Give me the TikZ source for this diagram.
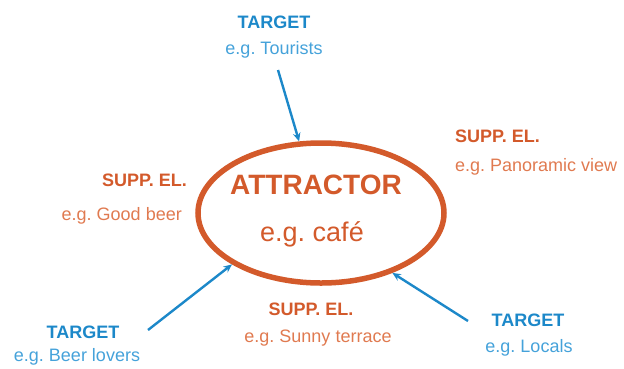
\documentclass[tikz,border=0pt]{standalone}
\usepackage{fontspec}
\setmainfont{Liberation Sans}
\usetikzlibrary{shapes.geometric,arrows.meta}
\definecolor{tblue}{HTML}{1C88C9}
\definecolor{lblue}{HTML}{45A2DA}
\definecolor{torange}{HTML}{D35A2B}
\definecolor{lorange}{HTML}{E07A50}
\frenchspacing
\tikzset{
  head/.style={font=\bfseries\fontsize{18}{21}\selectfont, inner sep=0pt},
  sub/.style={font=\fontsize{18}{21}\selectfont, inner sep=0pt},
  tgthead/.style={head, text=tblue},
  tgtsub/.style={sub, text=lblue},
  supphead/.style={head, text=torange},
  suppsub/.style={sub, text=lorange},
  link/.style={draw=tblue, line width=2.4pt, -{Stealth[length=8.5pt,width=7.5pt]}},
}
\begin{document}
\begin{tikzpicture}[x=1pt,y=-1pt]
\useasboundingbox (0,0) rectangle (624,368);
% attractor
\node[ellipse, draw=torange, line width=5.5pt, minimum width=246pt, minimum height=140pt, inner sep=0pt] (ell) at (321,213) {};
\node[font=\bfseries\fontsize{28}{30}\selectfont, text=torange, inner sep=0pt] (attr) at (316,185) {ATTRACTOR};
\node[font=\fontsize{27}{30}\selectfont, text=torange, inner sep=0pt] (cafe) at (312,234) {e.g. café};
% targets
\node[tgthead] (t1) at (274,22) {TARGET};
\node[tgtsub] (t1s) at (274,50) {e.g. Tourists};
\node[tgthead] (t2) at (83,332) {TARGET};
\node[tgtsub] (t2s) at (77,357) {e.g. Beer lovers};
\node[tgthead] (t3) at (528,320) {TARGET};
\node[tgtsub] (t3s) at (529,348) {e.g. Locals};
% supporting elements
\node[supphead, anchor=east] (s1) at (187,180) {SUPP. EL.};
\node[suppsub, anchor=east] (s1s) at (182,216) {e.g. Good beer};
\node[supphead, anchor=west] (s2) at (455,136) {SUPP. EL.};
\node[suppsub, anchor=west] (s2s) at (455,167) {e.g. Panoramic view};
\node[supphead] (s3) at (311,309) {SUPP. EL.};
\node[suppsub] (s3s) at (318,338) {e.g. Sunny terrace};
% arrow starts
\coordinate (a1) at (278,70);
\coordinate (a2) at (148,330);
\coordinate (a3) at (468,321);
\draw[link] (a1) -- (ell.107);
\draw[link] (a2) -- (ell.210);
\draw[link] (a3) -- (ell.320);
\end{tikzpicture}
\end{document}
